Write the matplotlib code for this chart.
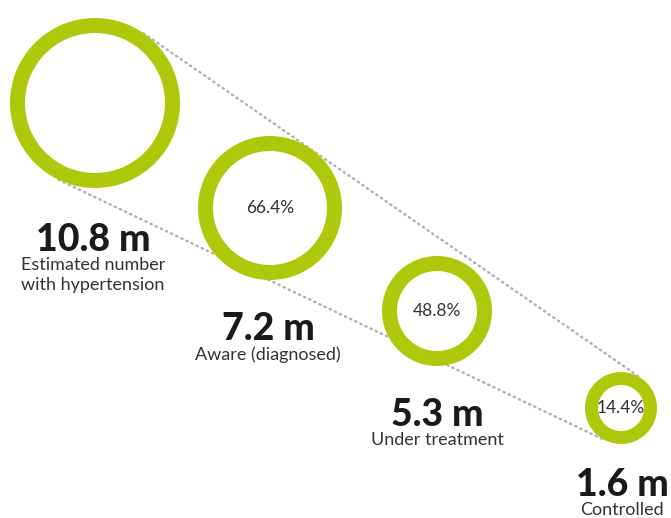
import numpy as np
import matplotlib
matplotlib.use("Agg")
import matplotlib.pyplot as plt
from matplotlib.patches import Wedge, Circle

# hypertension cascade
values = ["10.8 m", "7.2 m", "5.3 m", "1.6 m"]
labels = ["Estimated number\nwith hypertension", "Aware (diagnosed)", "Under treatment", "Controlled"]
shares = ["", "66.4%", "48.8%", "14.4%"]

# ring layout in pixel coords
cx = [95, 270, 437, 621]
cy = [103, 208, 311, 408]
rad = [85, 72, 55, 36]
ring_w = [15, 15, 15, 13]
text_x = [93, 268, 437, 622]
text_y = [240, 329, 415, 485]

green = "#aec90b"
dot = "#b0b0b0"

fig = plt.figure(figsize=(6.71, 5.18), dpi=100)
ax = fig.add_axes([0, 0, 1, 1])
ax.set_xlim(0, 671)
ax.set_ylim(518, 0)
ax.set_aspect("equal")
ax.axis("off")

# outer tangent lines between first and last ring
x1, y1, r1 = cx[0], cy[0], rad[0]
x2, y2, r2 = cx[-1], cy[-1], rad[-1]
d = np.hypot(x2 - x1, y2 - y1)
ang = np.arctan2(y2 - y1, x2 - x1)
off = np.arccos((r1 - r2) / d)
for s in (1, -1):
    a = ang + s * off
    p1 = (x1 + r1 * np.cos(a), y1 + r1 * np.sin(a))
    p2 = (x2 + r2 * np.cos(a), y2 + r2 * np.sin(a))
    ax.plot([p1[0], p2[0]], [p1[1], p2[1]], color=dot, lw=1.7,
            linestyle=(0, (0.6, 1.8)), dash_capstyle="round", zorder=1)

for i in range(len(values)):
    ax.add_patch(Circle((cx[i], cy[i]), rad[i], facecolor="white", edgecolor="none", zorder=2))
    ax.add_patch(Wedge((cx[i], cy[i]), rad[i], 0, 360, width=ring_w[i],
                       facecolor=green, edgecolor="none", zorder=3))
    if shares[i]:
        ax.text(cx[i], cy[i], shares[i], ha="center", va="center", fontsize=12.5,
                family="Lato", color="#333333", zorder=4)
    ax.text(text_x[i], text_y[i], values[i], ha="center", va="center", fontsize=27,
            family="Lato", fontweight="black", color="#1a1a1a")
    ax.text(text_x[i], text_y[i] + 17, labels[i], ha="center", va="top", fontsize=13,
            family="Lato", color="#333333", linespacing=1.3)

fig.savefig("out.png", dpi=100)
